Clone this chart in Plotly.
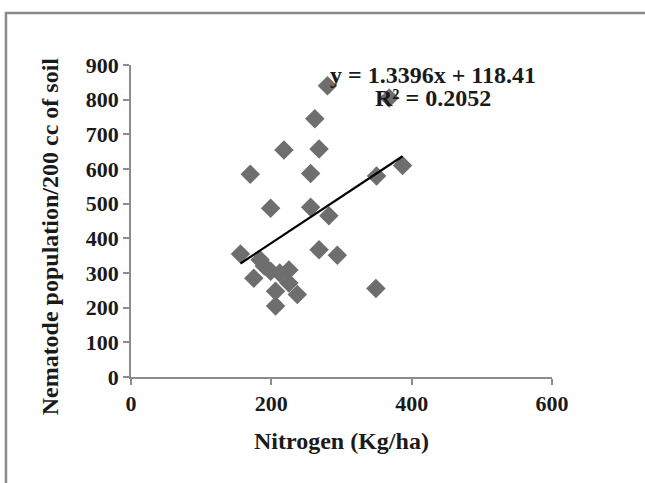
import plotly.graph_objects as go

# Soil nitrogen vs. nematode counts
nitrogen = [280, 262, 218, 268, 170, 256, 350, 387, 368, 199, 256, 282, 268,
            294, 156, 349, 184, 199, 175, 190, 225, 225, 237, 206, 206, 212]
nematode = [840, 745, 655, 658, 585, 587, 580, 610, 805, 487, 490, 465, 367,
            351, 355, 255, 338, 305, 285, 320, 309, 271, 238, 247, 205, 300]

# Linear trendline reported on the chart
slope = 1.3396
intercept = 118.41
r_squared = 0.2052

x_ticks = [0, 200, 400, 600]
y_ticks = [0, 100, 200, 300, 400, 500, 600, 700, 800, 900]

serif = "Liberation Serif, Times New Roman, serif"
tick_font = dict(family=serif, size=22, color="#1a1a1a", weight="bold")
label_font = dict(family=serif, size=24, color="#1a1a1a", weight="bold")
axis_grey = "#8c8c8c"

fig = go.Figure()

fig.add_trace(go.Scatter(
    x=nitrogen, y=nematode, mode="markers",
    marker=dict(symbol="diamond", size=15, color="#6e6e6e", line=dict(width=0)),
    showlegend=False, hoverinfo="x+y",
))

x_min, x_max = min(nitrogen), max(nitrogen)
fig.add_trace(go.Scatter(
    x=[x_min, x_max],
    y=[slope * x_min + intercept, slope * x_max + intercept],
    mode="lines", line=dict(color="black", width=2.2),
    showlegend=False, hoverinfo="skip",
))

fig.update_xaxes(
    range=[0, 600], tickvals=x_ticks, ticktext=[str(v) for v in x_ticks],
    showgrid=False, zeroline=False, showline=True, linecolor=axis_grey,
    linewidth=1.5, ticks="outside", ticklen=6, tickcolor=axis_grey,
    tickwidth=1.5, tickfont=tick_font,
)
fig.update_yaxes(
    range=[0, 900], tickvals=y_ticks, ticktext=[str(v) for v in y_ticks],
    showgrid=False, zeroline=False, showline=True, linecolor=axis_grey,
    linewidth=1.5, ticks="outside", ticklen=6, tickcolor=axis_grey,
    tickwidth=1.5, tickfont=tick_font,
)

annotations = [
    dict(text="y = %.4fx + %.2f" % (slope, intercept), x=431, y=870,
         xref="x", yref="y", showarrow=False, font=label_font,
         xanchor="center", yanchor="middle"),
    dict(text="R² = %.4f" % r_squared, x=431, y=804,
         xref="x", yref="y", showarrow=False, font=label_font,
         xanchor="center", yanchor="middle"),
    dict(text="Nitrogen (Kg/ha)", x=0.5, y=-0.205, xref="paper", yref="paper",
         showarrow=False, font=label_font, xanchor="center", yanchor="middle"),
    dict(text="Nematode population/200 cc of soil", x=-0.193, y=0.45,
         xref="paper", yref="paper", showarrow=False, font=label_font,
         textangle=-90, xanchor="center", yanchor="middle"),
]

fig.update_layout(
    width=645, height=483,
    margin=dict(l=131, r=93, t=65, b=106),
    paper_bgcolor="white", plot_bgcolor="white",
    annotations=annotations,
    shapes=[dict(type="rect", xref="paper", yref="paper",
                 x0=-0.297, x1=2.0, y0=-2.0, y1=1.167,
                 line=dict(color="#8a8a8a", width=2.5), layer="below")],
)

fig.write_html("out.html")
